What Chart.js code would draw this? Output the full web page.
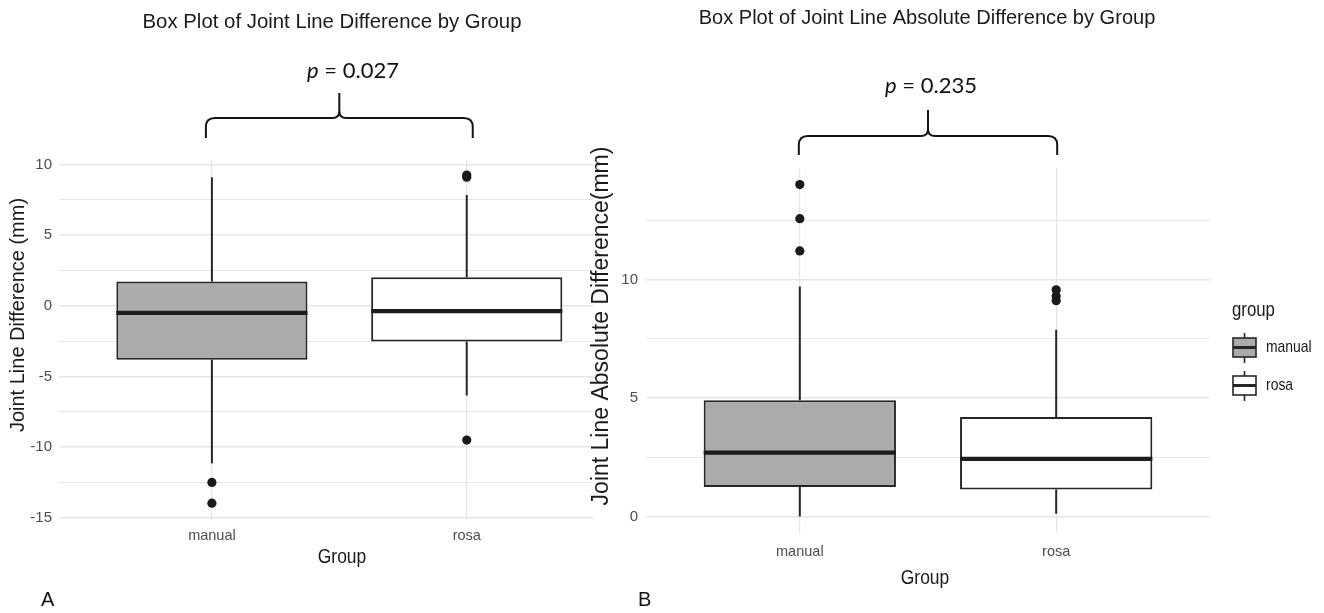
<!DOCTYPE html>
<html>
<head>
<meta charset="utf-8">
<title>Joint Line Difference box plots</title>
<script src="https://cdn.jsdelivr.net/npm/chart.js@4.4.1/dist/chart.umd.min.js"></script>
<style>
    html, body { margin: 0; padding: 0; background: #fff; }
    #wrap { position: relative; width: 1324px; height: 613px; overflow: hidden; }
    canvas { position: absolute; top: 0; }
    #chartA { left: 0; }
    #chartB { left: 580px; }
</style>
</head>
<body>
<div id="wrap">
    <canvas id="chartA" width="598" height="613"></canvas>
    <canvas id="chartB" width="744" height="613"></canvas>
</div>
<script>
// groups on the x axis
const groups = ['manual', 'rosa'];

// Panel A: Joint Line Difference (mm), values per group [manual, rosa]
const diffLowWhisker = [-11.15, -6.35];
const diffQ1 = [-3.82, -2.53];
const diffMedian = [-0.5, -0.38];
const diffQ3 = [1.72, 2.03];
const diffHighWhisker = [9.1, 7.85];
const diffOutliers = [[-12.5, -13.97], [9.25, 9.1, -9.5]];
const diffTicks = [-15, -10, -5, 0, 5, 10];

// Panel B: Joint Line Absolute Difference (mm)
const absLowWhisker = [0, 0.11];
const absQ1 = [1.24, 1.14];
const absMedian = [2.69, 2.43];
const absQ3 = [4.9, 4.19];
const absHighWhisker = [9.7, 7.88];
const absOutliers = [[14.0, 12.56, 11.2], [9.56, 9.3, 9.1]];
const absTicks = [0, 5, 10];

const pValues = ['0.027', '0.235'];

// styling
const boxFills = ['#ababab', '#ffffff'];
const lineColor = '#262626';
const gridColor = '#e6e6e6';
const sans = "'Liberation Sans', Arial, sans-serif";
const boxWidth = 0.75;

function drawBrace(ctx, x1, x2, yTop, yEnd, yTip) {
    const xm = (x1 + x2) / 2, r = 9, r2 = 7;
    ctx.save();
    ctx.strokeStyle = '#141414';
    ctx.lineWidth = 2;
    ctx.beginPath();
    ctx.moveTo(x1, yEnd);
    ctx.lineTo(x1, yTop + r);
    ctx.quadraticCurveTo(x1, yTop, x1 + r, yTop);
    ctx.lineTo(xm - r2, yTop);
    ctx.quadraticCurveTo(xm, yTop, xm, yTop - r2);
    ctx.lineTo(xm, yTip);
    ctx.moveTo(xm, yTop - r2);
    ctx.quadraticCurveTo(xm, yTop, xm + r2, yTop);
    ctx.lineTo(x2 - r, yTop);
    ctx.quadraticCurveTo(x2, yTop, x2, yTop + r);
    ctx.lineTo(x2, yEnd);
    ctx.stroke();
    ctx.restore();
}

// sx squeezes the text horizontally (the reference uses a condensed face)
function drawText(ctx, text, x, y, font, color, align, rotate, sx) {
    ctx.save();
    ctx.font = font;
    ctx.fillStyle = color;
    ctx.textAlign = align || 'center';
    ctx.textBaseline = 'middle';
    ctx.translate(x, y);
    if (rotate) ctx.rotate(-Math.PI / 2);
    if (sx) ctx.scale(sx, 1);
    ctx.fillText(text, 0, 0);
    ctx.restore();
}

function drawP(ctx, value, cx, cy) {
    ctx.save();
    ctx.textBaseline = 'middle';
    ctx.textAlign = 'left';
    ctx.fillStyle = '#111';
    ctx.font = 'italic 22px Lato, sans-serif';
    const w1 = ctx.measureText('p').width;
    const rest = ' = ' + value;
    ctx.font = '22px Lato, sans-serif';
    const w2 = ctx.measureText(rest).width;
    const x = cx - (w1 + w2) / 2;
    ctx.font = 'italic 22px Lato, sans-serif';
    ctx.fillText('p', x, cy);
    ctx.font = '22px Lato, sans-serif';
    ctx.fillText(rest, x + w1, cy);
    ctx.restore();
}

function drawLegend(ctx, x, y) {
    drawText(ctx, 'group', x - 1, y, '21px ' + sans, '#1a1a1a', 'left', false, 0.8);
    groups.forEach((g, i) => {
        const top = y + 28 + i * 38, w = 23, h = 19, cx = x + w / 2;
        ctx.save();
        ctx.strokeStyle = lineColor;
        ctx.lineWidth = 1.6;
        ctx.beginPath();
        ctx.moveTo(cx, top - 5); ctx.lineTo(cx, top);
        ctx.moveTo(cx, top + h); ctx.lineTo(cx, top + h + 6);
        ctx.stroke();
        ctx.fillStyle = boxFills[i];
        ctx.fillRect(x, top, w, h);
        ctx.strokeRect(x, top, w, h);
        ctx.lineWidth = 3;
        ctx.beginPath();
        ctx.moveTo(x, top + h / 2); ctx.lineTo(x + w, top + h / 2);
        ctx.stroke();
        ctx.restore();
        drawText(ctx, g, x + 33, top + h / 2, '17px ' + sans, '#1a1a1a', 'left', false, 0.82);
    });
}

const panelText = {
    id: 'panelText',
    afterDraw(chart, args, o) {
        const ctx = chart.ctx;
        const xs = chart.scales.x;
        drawText(ctx, o.title, o.titleX, o.titleY, '21px ' + sans, '#1a1a1a', 'center', false, o.titleSx);
        drawText(ctx, o.yTitle, o.yTitleX, o.yTitleY, o.yTitleSize + 'px ' + sans, '#1a1a1a', 'center', true);
        drawText(ctx, 'Group', o.xTitleX, o.xTitleY, '21px ' + sans, '#1a1a1a', 'center', false, 0.83);
        drawText(ctx, o.tag, o.tagX, o.tagY, '20px ' + sans, '#111', 'left');
        drawP(ctx, o.p, o.pX, o.pY);
        drawBrace(ctx, xs.getPixelForValue(1) - o.braceOut, xs.getPixelForValue(2) + o.braceOut,
            o.braceTop, o.braceEnd, o.braceTip);
        if (o.legend) drawLegend(ctx, o.legendX, o.legendY);
    }
};

function makeBoxChart(id, d) {
    const medians = [], whiskers = [], outliers = [], boxes = [];
    groups.forEach((g, i) => {
        const x = i + 1;
        if (i > 0) { medians.push({ x: x - 0.5, y: null }); whiskers.push({ x: x - 0.5, y: null }); }
        medians.push({ x: x - boxWidth / 2, y: d.median[i] }, { x: x + boxWidth / 2, y: d.median[i] });
        whiskers.push({ x: x, y: d.low[i] }, { x: x, y: d.q1[i] }, { x: x, y: null },
            { x: x, y: d.q3[i] }, { x: x, y: d.high[i] });
        d.outliers[i].forEach(v => outliers.push({ x: x, y: v }));
        boxes.push({ x: x, y: [d.q1[i], d.q3[i]] });
    });

    const step = d.ticks[1] - d.ticks[0];
    const gridValues = [];
    d.ticks.forEach(t => {
        gridValues.push(t);
        if (t + step / 2 <= d.yMax) gridValues.push(t + step / 2);
    });

    return new Chart(document.getElementById(id), {
        type: 'bar',
        data: {
            datasets: [
                {
                    type: 'line', data: medians, borderColor: '#1c1c1c', borderWidth: 4.2,
                    pointRadius: 0, spanGaps: false, borderCapStyle: 'butt', order: 0
                },
                {
                    type: 'scatter', data: outliers, pointRadius: 4.6, pointBackgroundColor: '#1a1a1a',
                    pointBorderWidth: 0, order: 0
                },
                {
                    type: 'line', data: whiskers, borderColor: lineColor, borderWidth: 2,
                    pointRadius: 0, spanGaps: false, order: 1
                },
                {
                    type: 'bar', data: boxes, backgroundColor: boxFills, borderColor: lineColor,
                    borderWidth: 2, borderSkipped: false, barPercentage: boxWidth,
                    categoryPercentage: 1, order: 2
                }
            ]
        },
        options: {
            responsive: false,
            animation: false,
            devicePixelRatio: 1,
            layout: { padding: d.padding },
            plugins: {
                legend: { display: false },
                tooltip: { enabled: false },
                panelText: d.text
            },
            scales: {
                x: {
                    type: 'linear', min: 0.4, max: d.xMax, offset: false,
                    afterBuildTicks: s => { s.ticks = groups.map((g, i) => ({ value: i + 1 })); },
                    afterFit: s => { s.height = d.xAxisHeight; },
                    ticks: {
                        callback: (v, i) => groups[i], autoSkip: false, maxRotation: 0,
                        font: { family: sans, size: 14.5 }, color: '#4d4d4d', padding: d.xTickPad
                    },
                    grid: { color: gridColor, lineWidth: 1.2, drawTicks: false, offset: false },
                    border: { display: false }
                },
                y: {
                    type: 'linear', min: d.yMin, max: d.yMax,
                    afterBuildTicks: s => { s.ticks = gridValues.map(v => ({ value: v })); },
                    afterFit: s => { s.width = d.yAxisWidth; },
                    ticks: {
                        callback: v => d.ticks.includes(v) ? String(v) : '',
                        font: { family: sans, size: 15 }, color: '#4d4d4d', padding: d.yTickPad
                    },
                    grid: {
                        color: gridColor, drawTicks: false,
                        lineWidth: c => d.ticks.includes(c.tick.value) ? 1.4 : 1.1
                    },
                    border: { display: false }
                }
            }
        },
        plugins: [panelText]
    });
}

makeBoxChart('chartA', {
    low: diffLowWhisker, q1: diffQ1, median: diffMedian, q3: diffQ3, high: diffHighWhisker,
    outliers: diffOutliers, ticks: diffTicks,
    yMin: -15.16, yMax: 10.32, xMax: 2.497,
    padding: { top: 160, left: 0, right: 0, bottom: 43 },
    xAxisHeight: 50, yAxisWidth: 59, xTickPad: 7, yTickPad: 7,
    text: {
        title: 'Box Plot of Joint Line Difference by Group', titleX: 332, titleY: 22, titleSx: 0.97,
        yTitle: 'Joint Line Difference (mm)', yTitleX: 18, yTitleY: 315, yTitleSize: 20,
        xTitleX: 342, xTitleY: 557,
        tag: 'A', tagX: 41, tagY: 600,
        p: pValues[0], pX: 353, pY: 71,
        braceOut: 6, braceTop: 118, braceEnd: 138, braceTip: 93,
        legend: false
    }
});

makeBoxChart('chartB', {
    low: absLowWhisker, q1: absQ1, median: absMedian, q3: absQ3, high: absHighWhisker,
    outliers: absOutliers, ticks: absTicks,
    yMin: -0.7, yMax: 14.7, xMax: 2.6,
    padding: { top: 168, left: 0, right: 114, bottom: 22 },
    xAxisHeight: 58, yAxisWidth: 66, xTickPad: 10, yTickPad: 8,
    text: {
        title: 'Box Plot of Joint Line Absolute Difference by Group', titleX: 347, titleY: 18, titleSx: 0.955,
        yTitle: 'Joint Line Absolute Difference(mm)', yTitleX: 22, yTitleY: 326, yTitleSize: 23,
        xTitleX: 345, xTitleY: 578,
        tag: 'B', tagX: 58, tagY: 600,
        p: pValues[1], pX: 351, pY: 86,
        braceOut: 1, braceTop: 136, braceEnd: 155, braceTip: 110,
        legend: true, legendX: 653, legendY: 310
    }
});
</script>
</body>
</html>
